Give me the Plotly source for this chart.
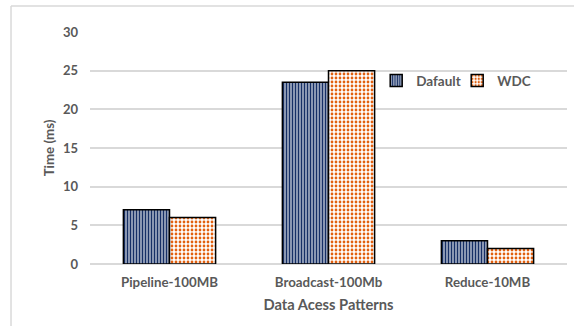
import plotly.graph_objects as go

categories = ["Pipeline-100MB", "Broadcast-100Mb", "Reduce-10MB"]
default_ms = [7, 23.5, 3]
wdc_ms = [6, 25, 2]
y_ticks = [0, 5, 10, 15, 20, 25, 30]

TEXT = "#595959"
FONT = "Lato"
FRAME = "#d9d9d9"

fig = go.Figure()
fig.add_trace(go.Bar(
    name="Dafault", x=categories, y=default_ms,
    marker=dict(
        color="white",
        line=dict(color="black", width=1.5),
        pattern=dict(shape="|", fgcolor="#162f66", bgcolor="white", fgopacity=1,
                     size=3, solidity=0.67, fillmode="replace"),
    ),
))
fig.add_trace(go.Bar(
    name="WDC", x=categories, y=wdc_ms,
    marker=dict(
        color="white",
        line=dict(color="black", width=1.5),
        pattern=dict(shape=".", fgcolor="#e2600f", bgcolor="white", fgopacity=1,
                     size=4, solidity=0.38, fillmode="replace"),
    ),
))

# outer chart frame: top and left edges, kept inside the figure
fig.add_shape(type="line", xref="paper", yref="paper",
              x0=-0.1656, x1=1.0147, y0=1.1123, y1=1.1123,
              line=dict(color=FRAME, width=1.5))
fig.add_shape(type="line", xref="paper", yref="paper",
              x0=-0.1656, x1=-0.1656, y0=-0.27, y1=1.1123,
              line=dict(color=FRAME, width=1.5))

fig.update_layout(
    width=574, height=326,
    margin=dict(l=90, r=7, t=32, b=62),
    paper_bgcolor="white", plot_bgcolor="white",
    barmode="group", bargap=0.42, bargroupgap=0,
    font=dict(family=FONT, color=TEXT, size=13.3),
    showlegend=True,
    legend=dict(orientation="h", x=0.60, y=0.79, xanchor="left", yanchor="middle",
                bgcolor="rgba(0,0,0,0)",
                font=dict(size=13.5, family=FONT, color=TEXT, weight="bold"),
                itemwidth=30, entrywidth=36, entrywidthmode="pixels", tracegroupgap=0),
    xaxis=dict(
        title=dict(text="<b>Data Acess Patterns</b>", font=dict(size=14.7), standoff=10),
        tickfont=dict(size=13.3, weight="bold"),
        showgrid=False, showline=False, ticks="", ticklabelstandoff=9,
    ),
    yaxis=dict(
        title=dict(text="<b>Time (ms)</b>", font=dict(size=13.3), standoff=5),
        range=[0, 30], tickvals=y_ticks,
        tickfont=dict(size=13, weight="bold"),
        showgrid=True, gridcolor=FRAME, gridwidth=1.5,
        zeroline=True, zerolinecolor=FRAME, zerolinewidth=1.5,
        ticklabelstandoff=11, showline=False,
    ),
)

fig.write_html("out.html")
